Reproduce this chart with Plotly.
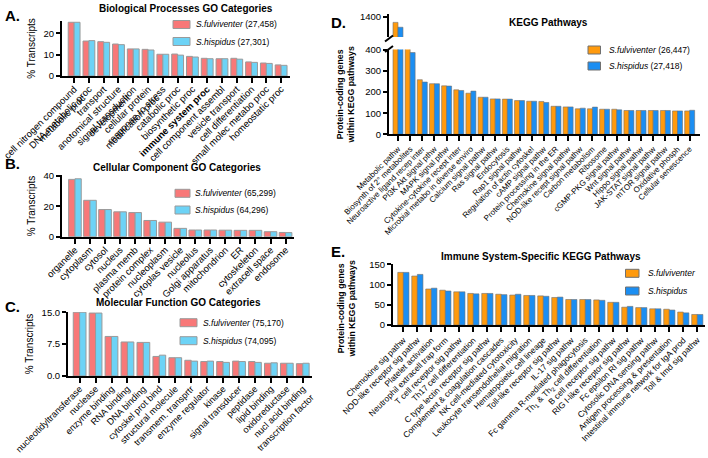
import plotly.graph_objects as go

W, H = 708, 458
FONT = "Arial, Liberation Sans, sans-serif"

# ---------------- data ----------------
# A. Biological processes (% transcripts)
bp_labels = ["cell nitrogen compound<br>metabolic proc", "DNA metabolic proc", "transport",
             "anotomical structure<br>development", "signal transduction",
             "cellular protein<br>modification proc", "response to stress", "catabolic proc",
             "biosynthetic proc", "<b>immune system proc</b>", "cell component assembl",
             "vesicle transport", "cell differentiation", "small molec metabo proc",
             "homeostatic proc"]
bp_fulv = [25.2, 16.4, 16.1, 15.0, 12.7, 12.5, 10.2, 10.3, 9.2, 8.3, 8.1, 8.3, 6.6, 6.1, 5.2]
bp_hisp = [25.2, 16.6, 15.8, 14.7, 12.7, 12.2, 10.2, 9.8, 8.9, 8.1, 8.1, 7.9, 6.4, 5.9, 5.0]

# B. Cellular component
cc_labels = ["organelle", "cytoplasm", "cytosol", "nucleus", "plasma memb", "protein complex",
             "nucleoplasm", "cytoplas vesicle", "nucleolus", "Golgi apparatus", "mitochondrion",
             "ER", "cytoskeleton", "extracell space", "endosome"]
cc_fulv = [37.8, 24.0, 17.9, 16.4, 15.9, 10.7, 9.6, 5.5, 4.4, 4.4, 4.3, 4.2, 4.2, 3.3, 2.8]
cc_hisp = [38.2, 24.0, 17.9, 16.4, 15.9, 10.7, 9.6, 5.5, 4.4, 4.4, 4.3, 4.2, 4.2, 3.3, 2.7]

# C. Molecular function
mf_labels = ["nucleotidyltransferase", "nuclease", "enzyme binding", "RNA binding", "DNA binding",
             "cytoskel prot bind", "structural molecule", "transmem. transprtr",
             "enzyme regulator", "kinase", "signal transducer", "peptidase", "lipid binding",
             "oxidoreductase", "nucl acid binding<br>transcription factor"]
mf_fulv = [15.0, 14.8, 9.3, 8.0, 7.9, 4.6, 4.3, 3.7, 3.4, 3.4, 3.5, 3.4, 3.0, 3.0, 2.9]
mf_hisp = [15.0, 14.8, 9.3, 8.0, 7.9, 4.9, 4.3, 3.5, 3.5, 3.2, 3.4, 3.2, 3.1, 3.0, 3.0]

# D. KEGG pathways (protein-coding genes)
kg_labels = ["Metabolic pathw", "Biosynth of 2° metabolites", "Neuroactive ligand recep inter",
             "PI3K Akt signal pthw", "MAPK signal pthw", "Cytokine-cytokine recept inter",
             "Microbial metabo in diverse enviro", "Calcium signal pathw", "Ras signal pathw",
             "Endocytosis", "Rap1 signal pathw", "Regulation of actin cytoskel",
             "cAMP signal pathw", "Protein processing in the ER", "Chemokine signal pathw",
             "NOD-like recept signal pathw", "Carbon metabolism", "Ribosome",
             "cGMP-PKG signal pathw", "Wnt signal pathw", "Hippo signal pathw",
             "JAK-STAT signal pathw", "mTOR signal pathw", "Oxidative phosph",
             "Cellular senescence"]
kg_fulv = [1373, 415, 259, 240, 230, 211, 195, 176, 168, 167, 160, 157, 156, 133, 130,
           121, 121, 119, 119, 113, 113, 113, 113, 111, 111]
kg_hisp = [1350, 388, 248, 240, 229, 208, 205, 176, 168, 167, 160, 157, 151, 133, 130,
           124, 129, 119, 116, 113, 113, 113, 113, 111, 114]

# E. Immune-specific KEGG pathways
im_labels = ["Chemokine sig pathw", "NOD-like receptor sig pathw", "Platelet activation",
             "Neutrophil extracell trap form", "T cell receptor sig pathw",
             "Th17 cell differentiation", "C type lectin receptor sig pathw",
             "Complement & coagulation cascades", "NK cell-mediated cytotoxicity",
             "Leukocyte transendothelial migration", "Hematopoietic cell lineage",
             "Toll-like receptor sig pathw", "IL-17 sig pathw",
             "Fc gamma R-mediated phagocytosis", "Th<sub>1</sub> & Th<sub>2</sub> cell differentiation",
             "B cell receptor sig pathw", "RIG I-like receptor sig pathw",
             "Fc epsilon RI sig pathw", "Cytosolic DNA sensing pathw",
             "Antigen processing & presentation", "Intestinal immune network for IgA prod",
             "Toll & Imd sig pathw"]
im_fulv = [130, 121, 89, 86, 82, 78, 78, 76, 74, 73, 72, 68, 63, 63, 62, 56, 44, 43, 40, 39, 32, 26]
im_hisp = [130, 125, 91, 84, 82, 77, 78, 75, 76, 73, 71, 69, 63, 63, 61, 56, 46, 43, 40, 37, 30, 26]

# legend texts
bp_names = ["<i>S.fulviventer</i> (27,458)", "<i>S.hispidus</i> (27,301)"]
cc_names = ["<i>S.fulviventer</i> (65,299)", "<i>S.hispidus</i> (64,296)"]
mf_names = ["<i>S.fulviventer</i> (75,170)", "<i>S.hispidus</i> (74,095)"]
kg_names = ["<i>S.fulviventer</i> (26,447)", "<i>S.hispidus</i> (27,418)"]
im_names = ["<i>S.fulviventer</i>", "<i>S.hispidus</i>"]

GO_RED, GO_BLUE = "#F87878", "#6DD3F6"
KG_ORANGE, KG_BLUE = "#FF9A0D", "#1B8EF2"
GO_EDGE, KG_EDGE = "#9a9a9a", "#707070"


def px(v):
    return v / W


def py(v):
    return 1 - v / H


fig = go.Figure()


def add_pair(xa, ya, cats, v1, v2, c1, c2, n1, n2, width=0.4, lcol=GO_EDGE, lw=1):
    fig.add_trace(go.Bar(x=cats, y=v1, name=n1, xaxis=xa, yaxis=ya,
                         width=width, offset=-width, showlegend=False,
                         marker=dict(color=c1, line=dict(color=lcol, width=lw))))
    fig.add_trace(go.Bar(x=cats, y=v2, name=n2, xaxis=xa, yaxis=ya,
                         width=width, offset=0, showlegend=False,
                         marker=dict(color=c2, line=dict(color=lcol, width=lw))))


add_pair("x", "y", bp_labels, bp_fulv, bp_hisp, GO_RED, GO_BLUE, *bp_names)
add_pair("x2", "y2", cc_labels, cc_fulv, cc_hisp, GO_RED, GO_BLUE, *cc_names, width=0.42)
add_pair("x3", "y3", mf_labels, mf_fulv, mf_hisp, GO_RED, GO_BLUE, *mf_names)
add_pair("x4", "y4", kg_labels, kg_fulv, kg_hisp, KG_ORANGE, KG_BLUE, *kg_names,
         width=0.41, lcol=KG_EDGE, lw=0.6)
# upper segment of the broken axis (same series, different y range)
add_pair("x4", "y6", kg_labels, kg_fulv, kg_hisp, KG_ORANGE, KG_BLUE, *kg_names,
         width=0.41, lcol=KG_EDGE, lw=0.6)
add_pair("x5", "y5", im_labels, im_fulv, im_hisp, KG_ORANGE, KG_BLUE, *im_names,
         width=0.4, lcol=KG_EDGE, lw=0.6)


def xax(x0, x1, rng, anchor, fs, standoff=0):
    return dict(domain=[px(x0), px(x1)], range=rng, anchor=anchor, type="category",
                automargin=False, ticklabelstandoff=standoff,
                showline=True, linecolor="black", linewidth=2, ticks="outside",
                ticklen=5, tickwidth=1.5, tickcolor="black", tickangle=-45,
                tickfont=dict(size=fs, color="black"), showgrid=False, zeroline=False)


def yax(y0, y1, rng, anchor, dtick=None, tickvals=None, title=None, fmt=None):
    d = dict(domain=[py(y1), py(y0)], range=rng, anchor=anchor, showline=True,
             automargin=False,
             linecolor="black", linewidth=2, ticks="outside", ticklen=4, tickwidth=1.5,
             tickcolor="black", tickfont=dict(size=9.5, color="black"), showgrid=False,
             zeroline=False)
    if dtick is not None:
        d["dtick"] = dtick
    if tickvals is not None:
        d["tickvals"] = tickvals
    if fmt:
        d["tickformat"] = fmt
    if title:
        d["title"] = dict(text=title, font=dict(size=10, color="black"), standoff=6)
    return d


pct = "% Transcripts"

fig.update_layout(
    template="none",
    xaxis=xax(62, 290, [-0.82, 14.6], "y", 9.5, -3),
    yaxis=yax(21, 76, [0, 25.8], "x", dtick=10, title=pct),
    xaxis2=xax(62, 294, [-0.86, 14.56], "y2", 9.5, -3),
    yaxis2=yax(175.3, 236.7, [0, 40.5], "x2", dtick=20, title=pct),
    xaxis3=xax(68, 311.7, [-0.73, 14.56], "y3", 9.2, -3),
    yaxis3=yax(312, 376, [0, 15.05], "x3", dtick=7.5, title=pct, fmt=".1f"),
    xaxis4=xax(389, 700, [-0.74, 24.85], "y4", 8),
    yaxis4=yax(49.6, 134.3, [0, 402], "x4", dtick=100),
    yaxis6=yax(14, 37, [1303.7, 1412.8], "x4", tickvals=[1400]),
    xaxis5=xax(393, 705, [-0.74, 21.55], "y5", 8.4),
    yaxis5=yax(263.9, 325, [0, 151], "x5", dtick=50),
)

# y titles of the KEGG panels
for yc in (95, 309):
    fig.add_annotation(text="<b>Protein-coding genes<br>within KEGG pathways</b>",
                       x=px(345.5), y=py(yc), xref="paper", yref="paper", textangle=-90,
                       showarrow=False, xanchor="center", yanchor="middle",
                       font=dict(size=8.8, color="black"))

# hand-drawn legends: (names, colours, edge, swatch x0, x1, row y's, text x)
legends = [
    (bp_names, (GO_RED, GO_BLUE), GO_EDGE, 173, 190, (24.5, 41.5), 195),
    (cc_names, (GO_RED, GO_BLUE), GO_EDGE, 175, 190, (193.3, 210.0), 194),
    (mf_names, (GO_RED, GO_BLUE), GO_EDGE, 180, 197, (322.7, 340.7), 201.5),
    (kg_names, (KG_ORANGE, KG_BLUE), KG_EDGE, 588, 600.5, (50.0, 66.0), 607.5),
    (im_names, (KG_ORANGE, KG_BLUE), KG_EDGE, 625.5, 639, (273.3, 291.0), 646.5),
]
for names, cols, edge, sx0, sx1, rows, tx in legends:
    for name, col, ry in zip(names, cols, rows):
        fig.add_shape(type="rect", xref="paper", yref="paper",
                      x0=px(sx0), x1=px(sx1), y0=py(ry + 4), y1=py(ry - 4),
                      fillcolor=col, line=dict(color=edge, width=1))
        fig.add_annotation(text=name, x=px(tx), y=py(ry), xref="paper", yref="paper",
                           showarrow=False, xanchor="left", yanchor="middle", borderpad=0,
                           font=dict(size=8.5, color="black"))

titles = [
    ("Biological Processes GO Categories", 186, 8),
    ("Cellular Component GO Categories", 177, 167),
    ("Molecular Function GO Categories", 178, 302),
    ("KEGG Pathways", 548, 22),
    ("Immune System-Specific KEGG Pathways", 541, 256),
]
for t, x, y in titles:
    fig.add_annotation(text=f"<b>{t}</b>", x=px(x), y=py(y), xref="paper", yref="paper",
                       showarrow=False, xanchor="center", yanchor="middle",
                       font=dict(size=10, color="black"))

letters = [("A.", 3, 16), ("B.", 3, 164), ("C.", 3, 306), ("D.", 329, 22), ("E.", 329, 252)]
for t, x, y in letters:
    fig.add_annotation(text=f"<b>{t}</b>", x=px(x), y=py(y), xref="paper", yref="paper",
                       showarrow=False, xanchor="left", yanchor="middle",
                       font=dict(size=15, color="black"))

# axis break marks on panel D
for yb in (38.5, 49.0):
    fig.add_shape(type="line", xref="paper", yref="paper",
                  x0=px(385), y0=py(yb + 3), x1=px(393), y1=py(yb - 3),
                  line=dict(color="black", width=2))

fig.update_layout(
    width=W, height=H, margin=dict(l=0, r=0, t=0, b=0),
    paper_bgcolor="white", plot_bgcolor="white",
    font=dict(family=FONT, color="black"),
    barmode="overlay", showlegend=False,
)

# drop the browser's default 8px body margin so the figure fills the window
fig.write_html("out.html", config={"displayModeBar": False},
               post_script="document.body.style.margin='0';")
